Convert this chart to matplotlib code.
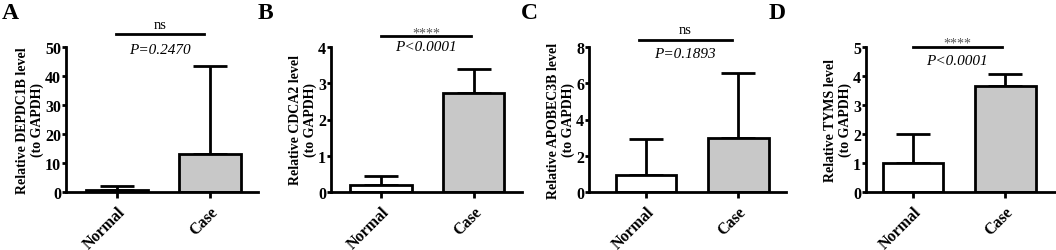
import numpy as np
import matplotlib
matplotlib.use('Agg')
import matplotlib.pyplot as plt

# ── DATA ───────────────────────────────────────────────────────────────────
GROUPS = ['Normal', 'Case']
GENES = ['DEPDC1B', 'CDCA2', 'APOBEC3B', 'TYMS']
LETTERS = ['A', 'B', 'C', 'D']

MEANS = [[0.8, 13.0], [0.2, 2.72], [0.95, 2.97], [1.0, 3.65]]
ERR_UP = [[1.4, 30.5], [0.25, 0.66], [1.97, 3.58], [1.0, 0.43]]
YMAX = [50, 4, 8, 5]
YSTEP = [10, 1, 2, 1]
SIG = ['ns', '****', 'ns', '****']
PTXT = ['P=0.2470', 'P<0.0001', 'P=0.1893', 'P<0.0001']

# ── LAYOUT (figure pixels) ─────────────────────────────────────────────────
W, H = 1056, 251
AX_LEFT = [66, 331, 589, 866]
AX_RIGHT = [258, 522, 786, 1055]
XLIM = [(-0.548, 1.516), (-0.54, 1.52), (-0.62, 1.52), (-0.51, 1.54)]
AX_TOP, AX_ZERO = 48, 193
LINE_Y = [1.09, 1.076, 1.048, 1.0]
SIG_Y = [1.155, 1.095, 1.124, 1.025]
P_Y = [0.985, 1.005, 0.952, 0.905]
LINE_X = [(-0.01, 0.935), (0.0, 0.97), (-0.08, 0.93), (0.0, 0.96)]
LETTER_X = [2, 258, 521, 769]

LW = 2.0
plt.rcParams.update({
    'font.family': ['Liberation Serif', 'DejaVu Serif'],
    'axes.linewidth': LW,
    'xtick.major.width': LW,
    'ytick.major.width': LW,
    'xtick.major.size': 4,
    'ytick.major.size': 3,
})

fig = plt.figure(figsize=(W / 100, H / 100), dpi=100)

for i in range(4):
    l = AX_LEFT[i] / W
    w = (AX_RIGHT[i] - AX_LEFT[i]) / W
    b = (H - AX_ZERO) / H
    h = (AX_ZERO - AX_TOP) / H
    ax = fig.add_axes([l, b, w, h])
    x = np.arange(len(GROUPS))
    ax.bar(x, MEANS[i], width=0.66, color=['white', '#c8c8c8'],
           edgecolor='black', linewidth=LW, zorder=2)
    ax.errorbar(x, MEANS[i], yerr=[[0, 0], ERR_UP[i]], fmt='none',
                ecolor='black', elinewidth=LW, capsize=12, capthick=LW,
                zorder=1)
    ax.set_xlim(*XLIM[i])
    ax.set_ylim(0, YMAX[i])
    ax.set_yticks(np.arange(0, YMAX[i] + 0.001, YSTEP[i]))
    ax.set_xticks(x)
    ax.set_xticklabels(GROUPS, rotation=45, ha='right', va='top',
                       rotation_mode='anchor', fontsize=11.5, fontweight='bold')
    for t in ax.get_yticklabels():
        t.set_fontsize(11.5)
        t.set_fontweight('bold')
    ax.tick_params(axis='y', pad=0.5)
    ax.tick_params(axis='x', pad=4)
    ax.spines['top'].set_visible(False)
    ax.spines['right'].set_visible(False)
    ax.set_ylabel(f'Relative {GENES[i]} level\n(to GAPDH)', fontsize=10,
                  fontweight='bold', labelpad=1, linespacing=1.1)

    # significance bracket
    x0, x1 = LINE_X[i]
    ax.plot([x0, x1], [LINE_Y[i] * YMAX[i]] * 2, color='black', lw=LW,
            clip_on=False)
    xm = (x0 + x1) / 2
    if SIG[i] == 'ns':
        ax.text(xm, SIG_Y[i] * YMAX[i], 'ns', ha='center', va='center',
                fontsize=10.5)
    else:
        ax.text(xm, SIG_Y[i] * YMAX[i], SIG[i], ha='center', va='center',
                fontsize=10, color='#555555')
    ax.text(xm, P_Y[i] * YMAX[i], PTXT[i], ha='center', va='center',
            fontsize=11, style='italic')

    fig.text(LETTER_X[i] / W, 1 - 3 / H, LETTERS[i], ha='left', va='top',
             fontsize=17, fontweight='bold')

fig.savefig('out.png', dpi=100)
